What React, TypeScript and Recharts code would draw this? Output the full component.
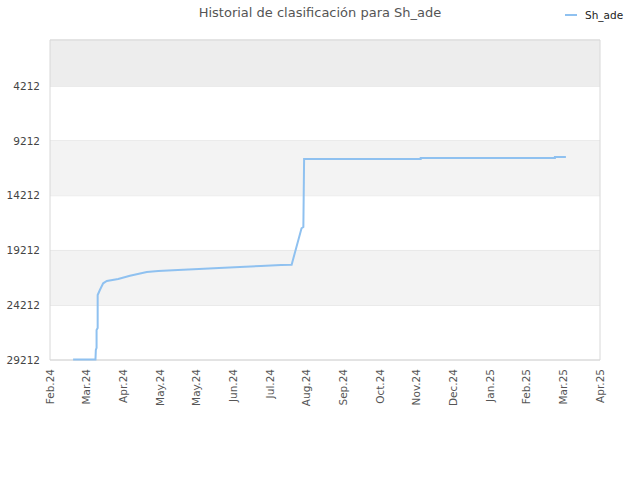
import { LineChart, Line, XAxis, YAxis, CartesianGrid, ReferenceArea } from "recharts";

// month labels as printed under the axis (evenly spaced ticks)
const monthLabels = [
  "Feb.24", "Mar.24", "Apr.24", "May.24", "May.24", "Jun.24", "Jul.24", "Aug.24",
  "Sep.24", "Oct.24", "Nov.24", "Dec.24", "Jan.25", "Feb.25", "Mar.25", "Apr.25",
];

const rankTicks = [4212, 9212, 14212, 19212, 24212, 29212];

// position along the time axis (in tick units) and rank
const timePos = [
  0.63, 1.24, 1.25, 1.27, 1.27, 1.3, 1.3, 1.36, 1.45, 1.55, 1.86, 2.18, 2.64, 2.95,
  3.49, 4.06, 4.61, 5.18, 5.75, 6.3, 6.59, 6.86, 6.91, 6.93, 10.11, 10.11, 13.77, 13.77, 14.07,
];
const ranks = [
  29160, 29160, 28300, 28100, 26470, 26290, 23280, 22820, 22210, 22000, 21820, 21520, 21180, 21090,
  21000, 20910, 20820, 20720, 20630, 20540, 20510, 17190, 17070, 10860, 10860, 10770, 10770, 10680, 10680,
];

const data = timePos.map((t, i) => ({ t, rank: ranks[i] }));

const bands = [
  { y1: 0, y2: 4212, fill: "#ededed" },
  { y1: 9212, y2: 14212, fill: "#f3f3f3" },
  { y1: 19212, y2: 24212, fill: "#f3f3f3" },
];

const MonthTick = (props: any) => {
  const { x, y, payload } = props;
  return (
    <g transform={`translate(${x},${y})`}>
      <text
        transform="rotate(-90)"
        textAnchor="end"
        dy="0.35em"
        x={-1}
        fontSize={10.5}
        fill="#555"
        fontFamily="DejaVu Sans"
      >
        {monthLabels[payload.value]}
      </text>
    </g>
  );
};

export default function App() {
  return (
    <div style={{ position: "absolute", left: 0, top: 0, width: 640, height: 480, background: "#fff" }}>
      <div
        style={{
          position: "absolute",
          left: 0,
          width: 640,
          top: 5,
          textAlign: "center",
          fontFamily: "DejaVu Sans",
          fontSize: 13,
          color: "#555",
        }}
      >
        Historial de clasificación para Sh_ade
      </div>
      <div
        style={{
          position: "absolute",
          left: 565,
          top: 9,
          display: "flex",
          alignItems: "center",
          fontFamily: "DejaVu Sans",
          fontSize: 10.5,
          color: "#222",
        }}
      >
        <span style={{ width: 12, height: 2, background: "#8fc1f0", marginRight: 8 }} />
        Sh_ade
      </div>
      <LineChart width={640} height={480} data={data} margin={{ top: 40, right: 40, left: 0, bottom: 60 }}>
        {bands.map((b, i) => (
          <ReferenceArea key={i} y1={b.y1} y2={b.y2} fill={b.fill} fillOpacity={1} stroke="none" ifOverflow="visible" />
        ))}
        <CartesianGrid vertical={false} stroke="#dedede" />
        <ReferenceArea y1={0} y2={29212} fill="none" stroke="#d8d8d8" strokeWidth={1} ifOverflow="visible" />
        <XAxis
          type="number"
          dataKey="t"
          domain={[0, 15]}
          ticks={monthLabels.map((_, i) => i)}
          interval={0}
          tick={<MonthTick />}
          tickLine={false}
          axisLine={false}
          height={60}
        />
        <YAxis
          reversed
          type="number"
          domain={[0, 29212]}
          ticks={rankTicks}
          interval={0}
          width={50}
          tickLine={false}
          axisLine={false}
          tickSize={0}
          tickMargin={10}
          tick={{ fontSize: 10.5, fill: "#444", fontFamily: "DejaVu Sans" }}
        />
        <Line
          type="linear"
          dataKey="rank"
          stroke="#8fc1f0"
          strokeWidth={2}
          dot={false}
          isAnimationActive={false}
        />
      </LineChart>
    </div>
  );
}
